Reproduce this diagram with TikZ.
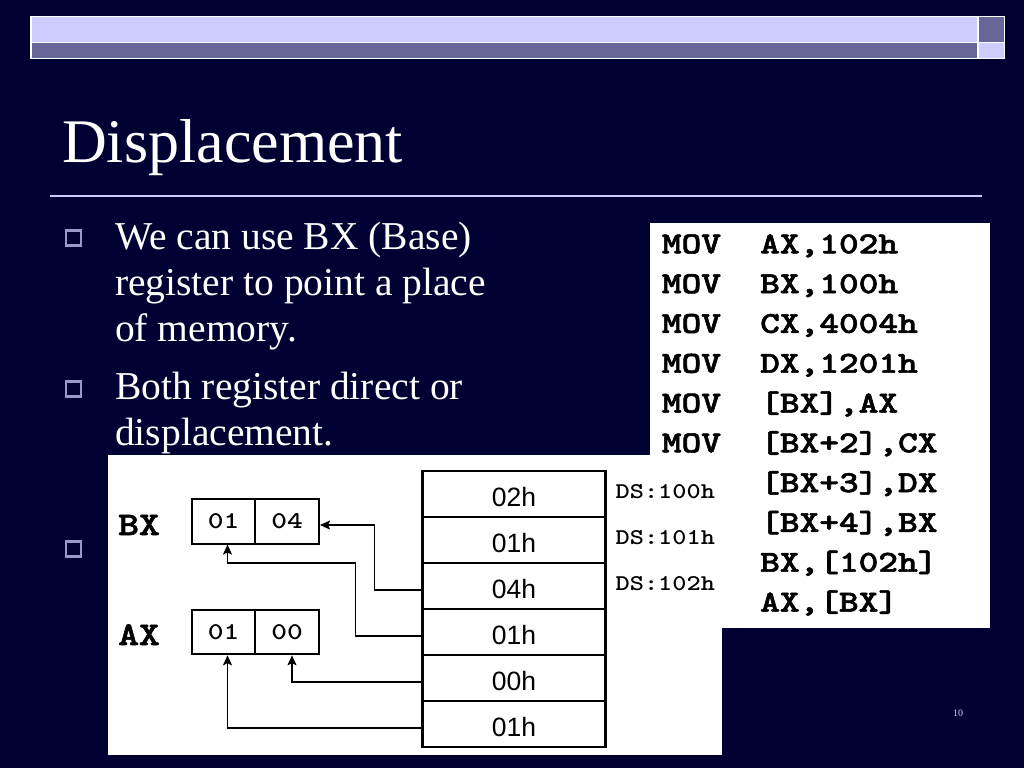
\documentclass[tikz,border=0pt]{standalone}
\usepackage{fontspec}
\setmainfont{Liberation Serif}
\newfontfamily\sansfam{Liberation Sans}
\newfontfamily\codefam{lmmonolt10-bold.otf}[FakeBold=1.6]
\newfontfamily\medfam{lmmonolt10-bold.otf}
\usetikzlibrary{arrows.meta}
\definecolor{bg}{HTML}{000033}
\definecolor{lav}{HTML}{CCCCFF}
\definecolor{slate}{HTML}{666699}
\definecolor{bul}{HTML}{9999CC}
\newcommand{\widen}[2]{\scalebox{#1}[1]{#2}}
\tikzset{
  bar/.style={draw=white, line width=1.5pt},
  title/.style={text=white, inner sep=0pt, anchor=base west, font=\fontsize{62}{62}\selectfont},
  body/.style={text=white, inner sep=0pt, anchor=base west, font=\fontsize{39.5}{40}\selectfont},
  bullet/.style={draw=bul, line width=2.2pt, minimum width=15pt, minimum height=15pt, inner sep=0pt},
  code/.style={text=black, inner sep=0pt, anchor=base west, font=\codefam\fontsize{30.5}{30}\selectfont},
  cell/.style={draw=black, line width=2.2pt, minimum width=183pt, minimum height=46pt, inner sep=0pt, text height=25.6pt, text depth=0pt, font=\sansfam\fontsize{26.5}{26}\selectfont},
  regcell/.style={draw=black, line width=2pt, minimum height=44.5pt, inner sep=0pt, font=\medfam\fontsize{24}{24}\selectfont},
  reglabel/.style={text=black, inner sep=0pt, anchor=base west, font=\codefam\fontsize{33}{33}\selectfont},
  addr/.style={text=black, inner sep=0pt, anchor=base west, font=\medfam\fontsize{22.5}{22}\selectfont},
  arr/.style={line width=1.6pt, -{Stealth[length=10pt,width=9pt,inset=2pt]}},
}
\begin{document}
\begin{tikzpicture}[x=1pt,y=-1pt]
\useasboundingbox (0,0) rectangle (1024,768);
\fill[bg] (0,0) rectangle (1024,768);
% top bar
\filldraw[bar, fill=lav] (31,16.5) rectangle (978,42.3);
\filldraw[bar, fill=slate] (31,42.3) rectangle (978,58.3);
\filldraw[bar, fill=slate] (978,16.5) rectangle (1004.5,42.3);
\filldraw[bar, fill=lav] (978,42.3) rectangle (1004.5,58.3);
% title
\node[title] (title) at (62,162) {Displacement};
\draw[lav, line width=1.3pt] (50,196) -- (982,196);
% bullets
\node[bullet] (b1) at (73.5,238) {};
\node[bullet] (b2) at (73.5,389) {};
\node[bullet] (b3) at (73.5,549) {};
\node[body] (t1) at (115,249) {We can use BX (Base)};
\node[body] (t2) at (115,295) {register to point a place};
\node[body] (t3) at (115,341) {of memory.};
\node[body] (t4) at (115,399) {Both register direct or};
\node[body] (t5) at (115,445) {displacement.};
% code box
\fill[white] (650,223) rectangle (990,628);
\node[code] (c1a) at (661.7,253.3) {\widen{1.23}{MOV}};
\node[code] (c1b) at (760,253.3) {\widen{1.23}{AX,102h}};
\node[code] (c2a) at (661.7,293.1) {\widen{1.23}{MOV}};
\node[code] (c2b) at (760,293.1) {\widen{1.23}{BX,100h}};
\node[code] (c3a) at (661.7,332.9) {\widen{1.23}{MOV}};
\node[code] (c3b) at (760,332.9) {\widen{1.23}{CX,4004h}};
\node[code] (c4a) at (661.7,372.7) {\widen{1.23}{MOV}};
\node[code] (c4b) at (760,372.7) {\widen{1.23}{DX,1201h}};
\node[code] (c5a) at (661.7,412.5) {\widen{1.23}{MOV}};
\node[code] (c5b) at (760,412.5) {\widen{1.23}{[BX],AX}};
\node[code] (c6a) at (661.7,452.3) {\widen{1.23}{MOV}};
\node[code] (c6b) at (760,452.3) {\widen{1.23}{[BX+2],CX}};
\node[code] (c7b) at (760,492.1) {\widen{1.23}{[BX+3],DX}};
\node[code] (c8b) at (760,531.9) {\widen{1.23}{[BX+4],BX}};
\node[code] (c9b) at (760,571.7) {\widen{1.23}{BX,[102h]}};
\node[code] (c10b) at (760,611.5) {\widen{1.23}{AX,[BX]}};
% diagram
\fill[white] (108,455) rectangle (722,755);
\node[cell] (m1) at (514,494) {02h};
\node[cell] (m2) at (514,540) {01h};
\node[cell] (m3) at (514,586) {04h};
\node[cell] (m4) at (514,632) {01h};
\node[cell] (m5) at (514,678) {00h};
\node[cell] (m6) at (514,724) {01h};
\node[addr] (d1) at (615.5,498) {\widen{1.2}{DS:100h}};
\node[addr] (d2) at (615.5,544) {\widen{1.2}{DS:101h}};
\node[addr] (d3) at (615.5,590) {\widen{1.2}{DS:102h}};
\node[reglabel] (bx) at (118,535) {\widen{1.2}{BX}};
\node[reglabel] (ax) at (118,645) {\widen{1.2}{AX}};
\node[regcell, minimum width=63.5pt] (bxh) at (223.5,521.3) {\widen{1.25}{01}};
\node[regcell, minimum width=64pt] (bxl) at (287,521.3) {\widen{1.25}{04}};
\node[regcell, minimum width=63.5pt] (axh) at (223.5,632) {\widen{1.25}{01}};
\node[regcell, minimum width=64pt] (axl) at (287,632) {\widen{1.25}{00}};
% connectors
\draw[arr] ([yshift=-4pt]m3.west) -- ++(-47,0) |- ([yshift=-3.7pt]bxl.east);
\draw[arr] ([yshift=-4pt]m4.west) -- ++(-66,0) |- (227.5,563) -- ([xshift=4pt]bxh.south);
\draw[arr] ([yshift=-4pt]m5.west) -| ([xshift=5pt]axl.south);
\draw[arr] ([yshift=-4pt]m6.west) -| ([xshift=4pt]axh.south);
% page number
\node[text=lav, inner sep=0pt, font=\fontsize{10}{10}\selectfont] (pg) at (958,713) {10};
\end{tikzpicture}
\end{document}
